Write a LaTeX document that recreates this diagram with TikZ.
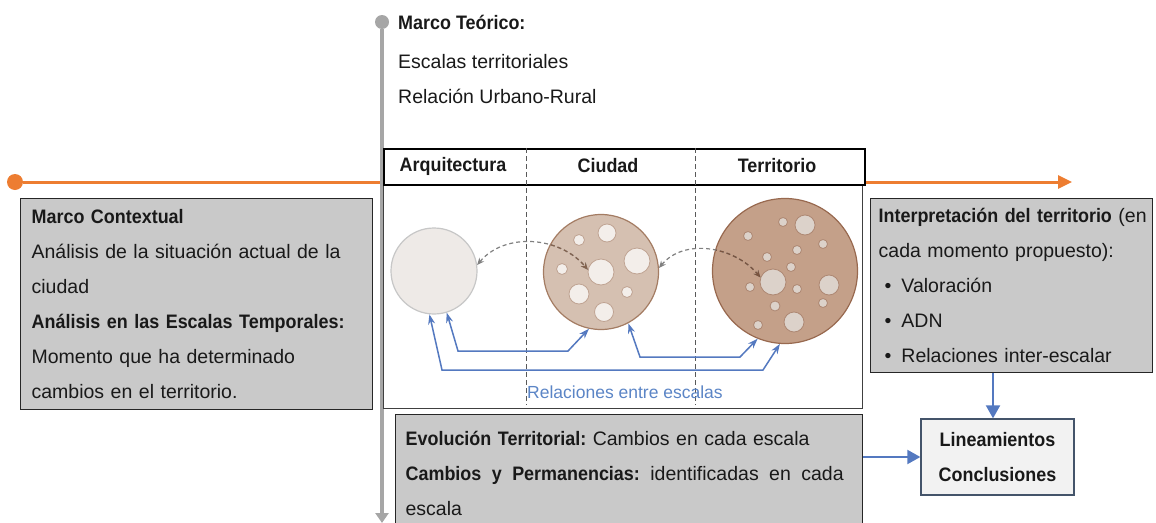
\documentclass[tikz,border=0pt]{standalone}
\usepackage{fontspec}
\setmainfont{Liberation Sans}[BoldFeatures={FakeStretch=0.92}]
\usepackage{tikz}
\usetikzlibrary{arrows.meta}
\definecolor{naranja}{HTML}{ED7D31}
\definecolor{grislinea}{HTML}{A6A6A6}
\definecolor{griscaja}{HTML}{C9C9C9}
\definecolor{azul}{HTML}{5479C0}
\definecolor{azultexto}{HTML}{5B85C6}
\definecolor{pizarra}{HTML}{44546A}
\definecolor{arqfill}{HTML}{EEEAE7}
\definecolor{ciufill}{HTML}{D5C0B1}
\definecolor{ciuborde}{HTML}{A47C63}
\definecolor{terfill}{HTML}{C4A089}
\definecolor{terborde}{HTML}{98694F}
\definecolor{huecoA}{HTML}{F3EEEA}
\definecolor{huecoB}{HTML}{DCD2CA}
\newcommand{\letra}{\fontsize{19.5pt}{35pt}\selectfont}
\frenchspacing

\begin{document}
\begin{tikzpicture}[x=1pt,y=-1pt,font=\letra,text=black!90,
  graybox/.style={draw=black!85,line width=1.3pt,fill=griscaja,anchor=north west,align=left,inner sep=0pt},
  titulo/.style={font=\letra\bfseries},
  dot/.style={circle,inner sep=0pt},
  escala/.style={circle,inner sep=0pt,line width=1.2pt},
  relac/.style={draw=black!50,line width=1.2pt,dash pattern=on 4pt off 3pt,{Stealth[length=7pt,width=6pt]}-{Stealth[length=7pt,width=6pt]}},
  enlace/.style={draw=azul,line width=1.5pt,{Stealth[length=10pt,width=7pt]}-{Stealth[length=10pt,width=7pt]}},
  flecha/.style={draw=azul,line width=2pt,-{Triangle[length=13pt,width=14pt]}}]
\useasboundingbox (0,0) rectangle (1156,522);
\node[dot,fill=naranja,minimum size=16pt] (oini) at (15,182) {};
\coordinate (ofin) at (1072,182);
\draw[naranja,line width=3pt,-{Triangle[length=14pt,width=13pt]}] (oini) -- (ofin);
\node[dot,fill=grislinea,minimum size=14pt] (tini) at (382,22) {};
\coordinate (tfin) at (382,523);
\draw[grislinea,line width=4pt,-{Triangle[length=10pt,width=13pt]}] (tini) -- (tfin);
\node[anchor=north west,align=left,inner sep=0pt] (mt) at (398,15) {\textbf{Marco Teórico:}\\[4pt] Escalas territoriales\\ Relación Urbano-Rural};
\node[draw=black!75,fill=white,line width=1pt,minimum width=479pt,minimum height=224pt,anchor=north west] (panel) at (383,184) {};
\node[draw=black,fill=white,line width=2pt,minimum width=481pt,minimum height=36pt,anchor=north west] (hdr) at (383,148) {};
\node[titulo] (arqt) at (453,166) {Arquitectura};
\node[titulo] (ciut) at (608,166) {Ciudad};
\node[titulo] (tert) at (777,166) {Territorio};
\draw[black!65,line width=1pt,dash pattern=on 5pt off 3pt] (526,148) -- (526,405);
\draw[black!65,line width=1pt,dash pattern=on 5pt off 3pt] (695,148) -- (695,405);
\node[escala,draw=black!22,fill=arqfill,minimum size=86pt] (arq) at (434,271) {};
\node[escala,draw=ciuborde,fill=ciufill,minimum size=115pt] (ciu) at (601,272) {};
\node[escala,draw=terborde,fill=terfill,minimum size=145pt] (ter) at (785,271) {};
\filldraw[fill=huecoA,draw=ciuborde!70,line width=0.8pt] (607,233) circle (9pt) (579,240) circle (5.5pt) (637,261) circle (13pt) (562,269) circle (5.5pt) (579,294) circle (10pt) (627,292) circle (5.5pt) (604,312) circle (9.5pt);
\filldraw[fill=huecoB,draw=terborde!80,line width=0.8pt] (783,222) circle (4.5pt) (805,225) circle (10pt) (748,236) circle (4.5pt) (823,244) circle (4.5pt) (797,250) circle (4.5pt) (767,257) circle (4.5pt) (791,267) circle (4.5pt) (750,287) circle (4.5pt) (797,289) circle (4.5pt) (829,285) circle (10pt) (775,306) circle (5pt) (823,303) circle (4.5pt) (794,322) circle (10pt) (758,325) circle (4.5pt);
\node[escala,draw=ciuborde!70,fill=huecoA,line width=0.8pt,minimum size=26pt] (ciuc) at (601,272) {};
\node[escala,draw=terborde!80,fill=huecoB,line width=0.8pt,minimum size=26pt] (terc) at (773,282) {};
\draw[relac] (arq.8) to[out=50,in=130] (ciuc.170);
\draw[relac] (ciu.4) to[out=50,in=130] (terc.160);
\begin{scope}
\clip (601,272) circle (57pt);
\draw[relac,draw=ciuborde!80!black] (arq.8) to[out=50,in=130] (ciuc.170);
\end{scope}
\begin{scope}
\clip (785,271) circle (72pt);
\draw[relac,draw=terborde!80!black] (ciu.4) to[out=50,in=130] (terc.160);
\end{scope}
\draw[enlace] (arq.-73) -- (458,351) -- (568,351) -- (ciu.-102);
\draw[enlace] (arq.-96) -- (442,370) -- (763,370) -- (ter.-94);
\draw[enlace] (ciu.-62) -- (640,357) -- (740,357) -- (ter.-112);
\node[text=azultexto,font=\fontsize{17.5pt}{21pt}\selectfont] (reltxt) at (625,392) {Relaciones entre escalas};
\node[graybox,text width=330pt,inner xsep=11pt,minimum height=211pt] (ctx) at (20,198) {\textbf{Marco Contextual}\\ Análisis de la situación actual de la\\ ciudad\\ \textbf{Análisis en las Escalas Temporales:}\\ Momento que ha determinado\\ cambios en el territorio.};
\node[graybox,text width=276pt,inner xsep=3pt,minimum height=174pt] (interp) at (870,198) {\hspace*{5pt}\textbf{Interpretación del territorio} (en\\ \hspace*{5pt}cada momento propuesto):\\ \hspace*{11pt}\textbullet\hspace{10pt}Valoración\\ \hspace*{11pt}\textbullet\hspace{10pt}ADN\\ \hspace*{11pt}\textbullet\hspace{10pt}Relaciones inter-escalar};
\node[graybox,text width=447pt,inner xsep=10pt,inner ysep=17pt] (evol) at (395,414) {\textbf{Evolución Territorial:} Cambios en cada escala\\ \makebox[438pt][l]{\textbf{Cambios\hfill y\hfill Permanencias:}\hfill identificadas\hfill en\hfill cada}\\ escala};
\node[draw=pizarra,line width=1.3pt,fill=black!5,minimum width=153pt,minimum height=76pt,align=center,titulo] (lin) at (997.5,457) {Lineamientos\\ Conclusiones};
\draw[flecha] ([xshift=-4.5pt]interp.south -| lin.north) -- ([xshift=-4.5pt]lin.north);
\draw[flecha] (lin.west -| evol.east) -- (lin.west);
\end{tikzpicture}
\end{document}
